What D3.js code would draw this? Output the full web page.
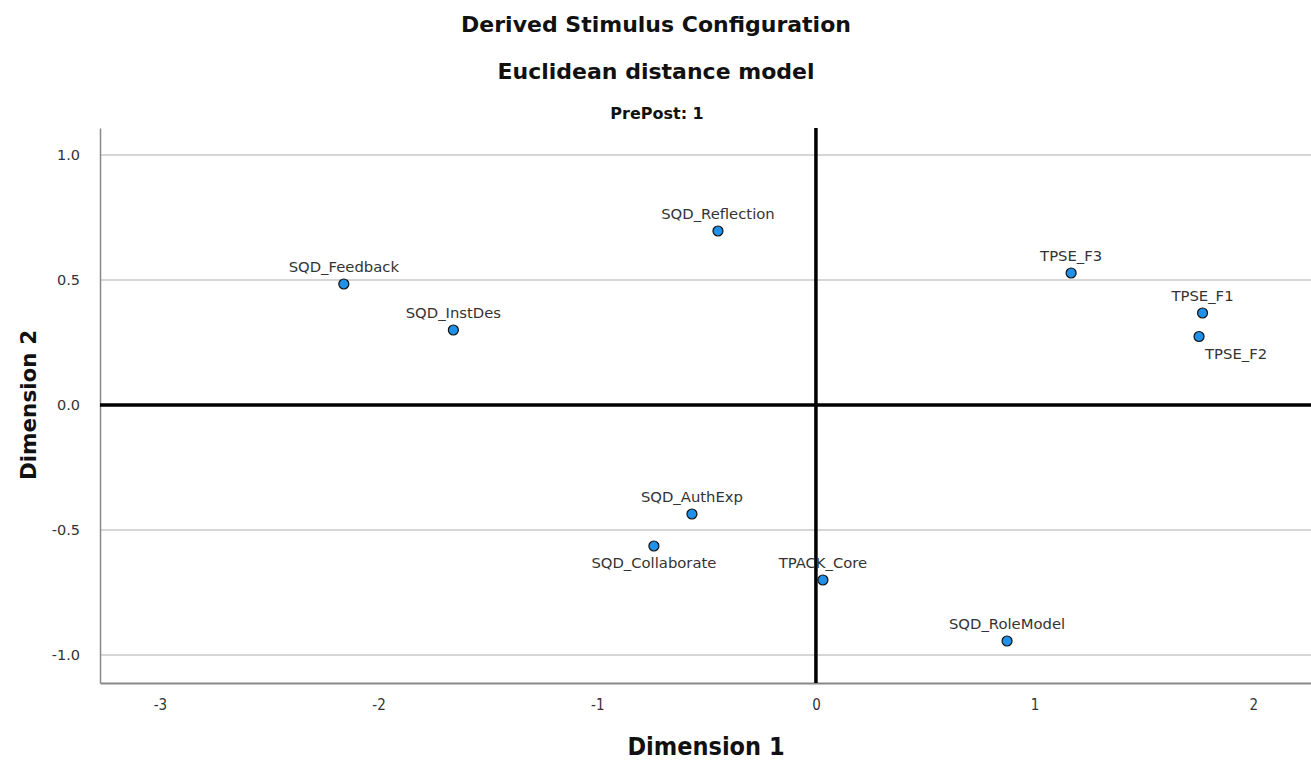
<!DOCTYPE html>
<html><head><meta charset="utf-8">
<script src="https://cdn.jsdelivr.net/npm/d3@7"></script>
<style>body{margin:0;background:#fff;}svg{display:block;}</style>
</head><body>
<svg id="chart" width="1311" height="761"></svg>
<script>
const labels = ["SQD_Feedback","SQD_InstDes","SQD_Reflection","TPSE_F3","TPSE_F1","TPSE_F2","SQD_AuthExp","SQD_Collaborate","TPACK_Core","SQD_RoleModel"];
const dim1 = [-2.159,-1.658,-0.448,1.167,1.768,1.752,-0.567,-0.741,0.032,0.874];
const dim2 = [0.484,0.300,0.696,0.528,0.368,0.274,-0.436,-0.564,-0.700,-0.944];
const labelPos = ["above","above","above","above","above","belowRight","above","below","above","above"];
const xTicks = [-3,-2,-1,0,1,2];
const yTicks = [-1.0,-0.5,0.0,0.5,1.0];

const svg = d3.select("#chart");
const m = {left:100, right:0, top:128, bottom:78};
const W = 1311, H = 761;
const x = d3.scaleLinear().domain([-3.274, 2.264]).range([m.left, W - m.right]);
const y = d3.scaleLinear().domain([-1.112, 1.108]).range([H - m.bottom, m.top]);

// titles
svg.append("text").attr("x",656).attr("y",32).attr("text-anchor","middle")
  .attr("font-family","DejaVu Sans").attr("font-weight","bold").attr("font-size",22).attr("fill","#111")
  .text("Derived Stimulus Configuration");
svg.append("text").attr("x",656).attr("y",79).attr("text-anchor","middle")
  .attr("font-family","DejaVu Sans").attr("font-weight","bold").attr("font-size",22).attr("fill","#111")
  .text("Euclidean distance model");
svg.append("text").attr("x",657).attr("y",119).attr("text-anchor","middle")
  .attr("font-family","DejaVu Sans").attr("font-weight","bold").attr("font-size",16).attr("fill","#111")
  .text("PrePost: 1");

// gridlines
svg.append("g").selectAll("line").data(yTicks.filter(d=>d!==0)).join("line")
  .attr("x1",m.left).attr("x2",W-m.right).attr("y1",d=>y(d)).attr("y2",d=>y(d))
  .attr("stroke","#c8c8c8").attr("stroke-width",1.5);

// axes
const yAxis = svg.append("g").attr("transform",`translate(${m.left},0)`)
  .call(d3.axisLeft(y).tickValues(yTicks).tickFormat(d3.format(".1f")).tickSize(0).tickPadding(20));
yAxis.select(".domain").attr("stroke","#888").attr("stroke-width",1.5);
yAxis.selectAll("text").attr("font-family","DejaVu Sans").attr("font-size",14.5).attr("fill","#333")
  .text(d=>d3.format(".1f")(d).replace("−","-"));

const xAxis = svg.append("g").attr("transform",`translate(0,${H-m.bottom})`)
  .call(d3.axisBottom(x).tickValues(xTicks).tickFormat(d3.format("d")).tickSize(0).tickPadding(16));
xAxis.select(".domain").attr("stroke","#888").attr("stroke-width",2);
xAxis.selectAll("text").attr("font-family","DejaVu Sans Condensed").attr("font-stretch","condensed").attr("font-size",15).attr("fill","#333")
  .text(d=>String(d));

// zero reference lines
svg.append("line").attr("x1",m.left).attr("x2",W-m.right).attr("y1",y(0)).attr("y2",y(0))
  .attr("stroke","#000").attr("stroke-width",3.5);
svg.append("line").attr("x1",x(0)).attr("x2",x(0)).attr("y1",m.top).attr("y2",H-m.bottom)
  .attr("stroke","#000").attr("stroke-width",3.5);

// axis titles
svg.append("text").attr("x",706).attr("y",755).attr("text-anchor","middle")
  .attr("font-family","DejaVu Sans Condensed").attr("font-stretch","condensed").attr("font-weight","bold").attr("font-size",25).attr("fill","#111")
  .text("Dimension 1");
svg.append("text").attr("transform",`translate(36,${y(0)}) rotate(-90)`).attr("text-anchor","middle")
  .attr("font-family","DejaVu Sans").attr("font-weight","bold").attr("font-size",21.5).attr("fill","#111")
  .text("Dimension 2");

// points
const data = labels.map((l,i)=>({label:l, d1:dim1[i], d2:dim2[i], pos:labelPos[i]}));
svg.append("g").selectAll("circle").data(data).join("circle")
  .attr("cx",d=>x(d.d1)).attr("cy",d=>y(d.d2)).attr("r",5)
  .attr("fill","#2090e8").attr("stroke","#111").attr("stroke-width",1.2);

svg.append("g").selectAll("text").data(data).join("text")
  .attr("x",d=> d.pos==="belowRight" ? x(d.d1)+6 : x(d.d1))
  .attr("y",d=> d.pos==="above" ? y(d.d2)-12 : y(d.d2)+22)
  .attr("text-anchor",d=> d.pos==="belowRight" ? "start" : "middle")
  .attr("font-family","DejaVu Sans").attr("font-size",14.8).attr("fill","#333")
  .text(d=>d.label);
</script>
</body></html>
